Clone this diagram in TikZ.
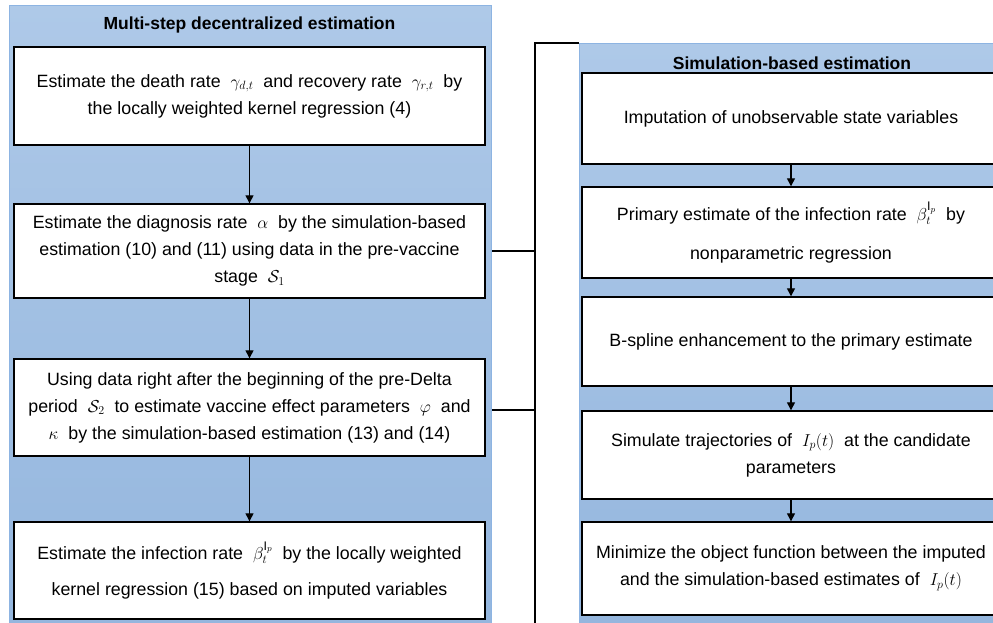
\documentclass[tikz,border=0pt]{standalone}
\usepackage{amsmath}
\usepackage{amssymb}
\usepackage{fontspec}
\setmainfont{Liberation Sans}
\usetikzlibrary{positioning,arrows.meta,calc}
\definecolor{mpaneltop}{HTML}{AEC9E8}
\definecolor{mpanelbot}{HTML}{94B6DE}
\definecolor{mpanelline}{HTML}{8DB4E2}
\tikzset{mpanel/.style={rectangle, draw=mpanelline, line width=1pt, top color=mpaneltop, bottom color=mpanelbot, inner sep=0pt}}
\tikzset{mbox/.style={rectangle, draw=black, line width=1.4pt, fill=white, align=center, inner sep=0pt, font=\fontsize{17.8}{27}\selectfont}}
\tikzset{mtitle/.style={font=\fontsize{17.5}{20}\selectfont\bfseries, inner sep=0pt}}
\tikzset{marrow/.style={-{Triangle[length=8pt, width=8pt]}, line width=1.3pt}}
\tikzset{mlink/.style={line width=1.4pt}}

\begin{document}
\begin{tikzpicture}[x=1pt, y=-1pt]
  \clip (0,0) rectangle (993,623);
  \fill[white] (0,0) rectangle (993,623);

  \node[mpanel, minimum width=482pt, minimum height=630pt, anchor=north west] (leftpanel) at (9,5) {};
  \node[mpanel, minimum width=425pt, minimum height=590pt, anchor=north west] (rightpanel) at (579,43) {};

  \node[mtitle] (lefttitle) at (249.5,25) {Multi-step decentralized estimation};
  \node[mtitle] (righttitle) at (792,63) {Simulation-based estimation};

  \node[mbox, minimum width=471pt, minimum height=98pt] (death) at (249.5,96)
    {Estimate the death rate\ \ $\gamma_{d,t}$\ \ and recovery rate\ \ $\gamma_{r,t}$\ \ by\\the locally weighted kernel regression (4)};
  \node[mbox, minimum width=471pt, minimum height=94pt] (diagnosis) at (249.5,251)
    {Estimate the diagnosis rate\ \ $\alpha$\ \ by the simulation-based\\estimation (10) and (11) using data in the pre-vaccine\\stage\ \ $\mathcal{S}_1$};
  \node[mbox, minimum width=471pt, minimum height=97pt] (vaccine) at (249.5,407.5)
    {Using data right after the beginning of the pre-Delta\\period\ \ $\mathcal{S}_2$\ \ to estimate vaccine effect parameters\ \ $\varphi$\ \ and\\$\kappa$\ \ by the simulation-based estimation (13) and (14)};
  \node[mbox, minimum width=471pt, minimum height=97pt] (infection) at (249.5,570.5)
    {Estimate the infection rate\ \ $\beta_t^{\mathrm{I}_p}$\ \ by the locally weighted\\[9pt]kernel regression (15) based on imputed variables};

  \node[mbox, minimum width=418pt, minimum height=91pt] (imputation) at (791,118.5)
    {Imputation of unobservable state variables};
  \node[mbox, minimum width=418pt, minimum height=91pt] (primary) at (791,232.5)
    {Primary estimate of the infection rate\ \ $\beta_t^{\mathrm{I}_p}$\ \ by\\[12pt]nonparametric regression};
  \node[mbox, minimum width=418pt, minimum height=89pt] (bspline) at (791,341.5)
    {B-spline enhancement to the primary estimate};
  \node[mbox, minimum width=418pt, minimum height=88pt] (simulate) at (791,455)
    {Simulate trajectories of\ \ $I_p(t)$\ \ at the candidate\\parameters};
  \node[mbox, minimum width=418pt, minimum height=93pt] (minimize) at (791,568.5)
    {Minimize the object function between the imputed\\and the simulation-based estimates of\ \ $I_p(t)$};

  \draw[marrow] (death) -- (diagnosis);
  \draw[marrow] (diagnosis) -- (vaccine);
  \draw[marrow] (vaccine) -- (infection);

  \draw[marrow] (imputation) -- (primary);
  \draw[marrow] (primary) -- (bspline);
  \draw[marrow] (bspline) -- (simulate);
  \draw[marrow] (simulate) -- (minimize);

  \coordinate (brtop) at (535,43);
  \coordinate (brbot) at (535,630);
  \coordinate (vaclink) at ($(vaccine.east)+(0,2.5)$);
  \draw[mlink] (rightpanel.north west) -- (brtop) -- (brbot);
  \draw[mlink] (leftpanel.east |- diagnosis.east) -- (brtop |- diagnosis.east);
  \draw[mlink] (leftpanel.east |- vaclink) -- (brtop |- vaclink);
\end{tikzpicture}
\end{document}
